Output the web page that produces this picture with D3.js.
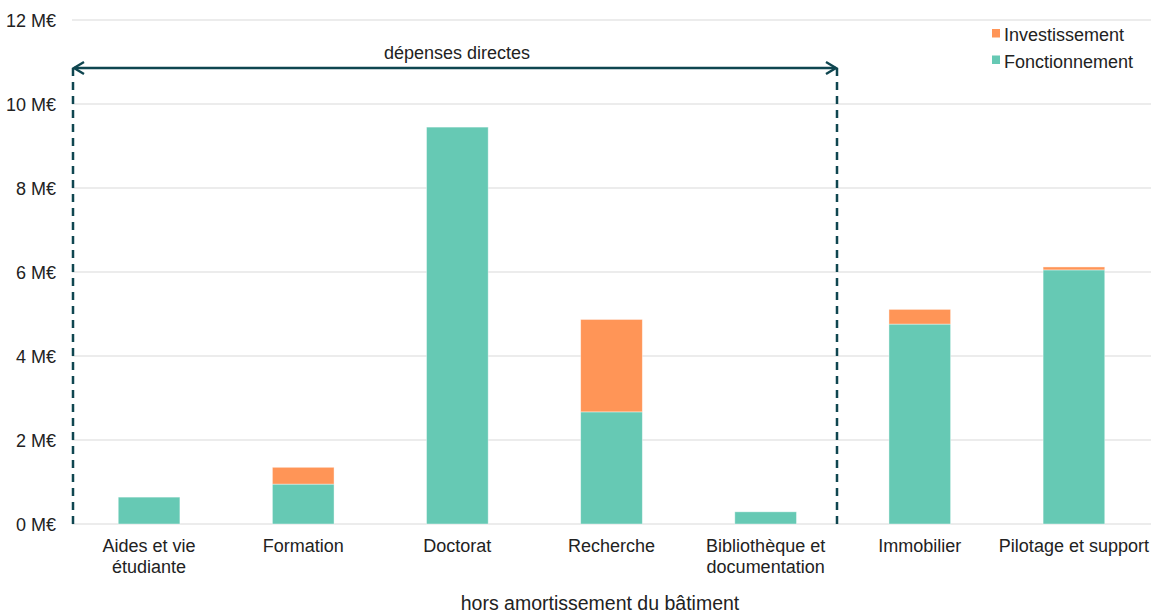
<!DOCTYPE html>
<html>
<head>
<meta charset="utf-8">
<script src="https://cdn.jsdelivr.net/npm/d3@7"></script>
<style>
  body { margin: 0; background: #fff; }
  text { font-family: "Liberation Sans", Arial, sans-serif; fill: #222; }
</style>
</head>
<body>
<div class="chart"></div>
<script>
var categories = [
    ["Aides et vie", "étudiante"],
    ["Formation"],
    ["Doctorat"],
    ["Recherche"],
    ["Bibliothèque et", "documentation"],
    ["Immobilier"],
    ["Pilotage et support"]
];
var fonctionnement = [0.64, 0.95, 9.45, 2.67, 0.29, 4.76, 6.05];
var investissement = [0, 0.40, 0, 2.20, 0, 0.35, 0.07];
var yTicks = [0, 2, 4, 6, 8, 10, 12];

var width = 1161, height = 615;
var margin = { left: 72, right: 10, top: 20, bottom: 91 };

var svg = d3.select(".chart")
    .append("svg")
    .attr("width", width)
    .attr("height", height);

var x = d3.scaleBand()
    .domain(d3.range(categories.length))
    .range([margin.left, 1151])
    .paddingInner(0.6)
    .paddingOuter(0.3);

var y = d3.scaleLinear()
    .domain([0, 12])
    .range([524, 20]);

// grid lines
svg.append("g")
    .selectAll("line")
    .data(yTicks)
    .enter()
    .append("line")
    .attr("x1", margin.left)
    .attr("x2", 1151)
    .attr("y1", (d) => y(d))
    .attr("y2", (d) => y(d))
    .attr("stroke", "#d9d9d9")
    .attr("stroke-width", 1);

// y labels
svg.append("g")
    .selectAll("text")
    .data(yTicks)
    .enter()
    .append("text")
    .attr("x", 56)
    .attr("y", (d) => y(d) + 6.5)
    .attr("text-anchor", "end")
    .style("font-size", "18px")
    .text((d) => d + " M€");

// stacked bars
var rows = categories.map((c, i) => ({ i: i, f: fonctionnement[i], v: investissement[i] }));
var stack = d3.stack().keys(["f", "v"])(rows);
var colors = { f: "#66c9b4", v: "#ff9557" };

svg.append("g")
    .selectAll("g")
    .data(stack)
    .enter()
    .append("g")
    .attr("fill", (s) => colors[s.key])
    .selectAll("rect")
    .data((s) => s.filter((d) => d[1] - d[0] > 0))
    .enter()
    .append("rect")
    .attr("x", (d) => x(d.data.i))
    .attr("width", x.bandwidth())
    .attr("y", (d) => y(d[1]))
    .attr("height", (d) => y(d[0]) - y(d[1]))
    .attr("stroke", "#fff")
    .attr("stroke-opacity", 0.5)
    .attr("stroke-width", 0.8);

// category labels
var labels = svg.append("g")
    .selectAll("text")
    .data(categories)
    .enter()
    .append("text")
    .attr("text-anchor", "middle")
    .style("font-size", "18px")
    .attr("x", (d, i) => x(i) + x.bandwidth() / 2)
    .attr("y", 552);

labels.selectAll("tspan")
    .data((d) => d)
    .enter()
    .append("tspan")
    .attr("x", function () { return d3.select(this.parentNode).attr("x"); })
    .attr("dy", (d, j) => (j === 0 ? 0 : 20.6))
    .text((d) => d);

// axis title
svg.append("text")
    .attr("x", 600)
    .attr("y", 610)
    .attr("text-anchor", "middle")
    .style("font-size", "19.5px")
    .text("hors amortissement du bâtiment");

// "dépenses directes" bracket
var dark = "#0f4650";
var left = 73, right = 837, arrowY = 68;

svg.append("g")
    .selectAll("line")
    .data([left, right])
    .enter()
    .append("line")
    .attr("x1", (d) => d)
    .attr("x2", (d) => d)
    .attr("y1", arrowY)
    .attr("y2", 524)
    .attr("stroke", dark)
    .attr("stroke-width", 2.5)
    .attr("stroke-dasharray", "8,6");

svg.append("line")
    .attr("x1", left + 1)
    .attr("x2", right - 1)
    .attr("y1", arrowY)
    .attr("y2", arrowY)
    .attr("stroke", dark)
    .attr("stroke-width", 2.4);

svg.append("path")
    .attr("d", `M${left + 11},${arrowY - 6} L${left + 1},${arrowY} L${left + 11},${arrowY + 6}` +
        ` M${right - 11},${arrowY - 6} L${right - 1},${arrowY} L${right - 11},${arrowY + 6}`)
    .attr("fill", "none")
    .attr("stroke", dark)
    .attr("stroke-width", 2.4);

svg.append("text")
    .attr("x", 457)
    .attr("y", 58.5)
    .attr("text-anchor", "middle")
    .style("font-size", "18px")
    .text("dépenses directes");

// legend
var legend = [
    { label: "Investissement", color: colors.v },
    { label: "Fonctionnement", color: colors.f }
];
var lg = svg.append("g")
    .selectAll("g")
    .data(legend)
    .enter()
    .append("g")
    .attr("transform", (d, i) => `translate(992,${29 + i * 26.5})`);
lg.append("rect")
    .attr("width", 8)
    .attr("height", 8.5)
    .attr("y", 0)
    .attr("fill", (d) => d.color);
lg.append("text")
    .attr("x", 12)
    .attr("y", 12)
    .style("font-size", "18px")
    .text((d) => d.label);
</script>
</body>
</html>
